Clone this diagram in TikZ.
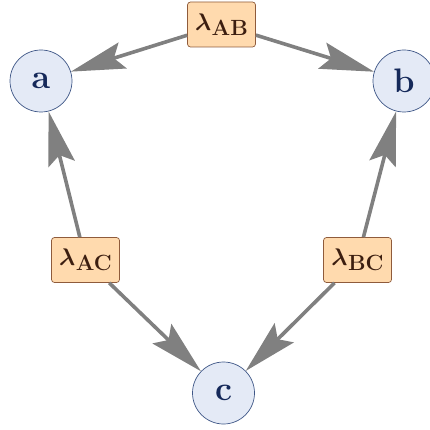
\RequirePackage{fix-cm}
\documentclass[tikz,border=0pt]{standalone}
\usepackage{amsmath}
\usetikzlibrary{arrows.meta}
\definecolor{varfill}{HTML}{E4EAF6}
\definecolor{vardraw}{HTML}{3F5787}
\definecolor{vartext}{HTML}{15295A}
\definecolor{facfill}{HTML}{FFDAAE}
\definecolor{facdraw}{HTML}{8F5B3B}
\definecolor{factext}{HTML}{3C1E10}
\definecolor{edgegray}{HTML}{808080}
\newcommand{\flab}[1]{$\boldsymbol{\lambda}$\kern0.5pt\raisebox{-5pt}{\fontsize{22}{26}\selectfont\bfseries #1}}
\begin{document}
\begin{tikzpicture}[x=1pt,y=-1pt,
    var/.style={circle,draw=vardraw,fill=varfill,line width=0.7pt,minimum size=62pt,inner sep=0pt,
        text=vartext,font=\fontsize{34}{38}\selectfont\bfseries},
    factor/.style={rectangle,rounded corners=3pt,draw=facdraw,fill=facfill,line width=0.7pt,
        minimum width=68pt,minimum height=45pt,inner sep=0pt,text=factext,font=\fontsize{24}{28}\selectfont},
    edge/.style={draw=edgegray,line width=3.6pt,-{Stealth[length=54pt,width=27pt,inset=9pt]}}]
    \useasboundingbox (0,0) rectangle (430,430);
    % variables
    \node[var] (a) at (41,81) {a};
    \node[var] (b) at (404,81) {b};
    \node[var] (c) at (223.5,393) {c};
    % factors
    \node[factor] (lab) at (221.5,24.5) {\flab{AB}};
    \node[factor] (lac) at (85.5,260) {\flab{AC}};
    \node[factor] (lbc) at (357.5,260) {\flab{BC}};
    % edges
    \draw[edge] (lab) -- (a);
    \draw[edge] (lab) -- (b);
    \draw[edge] (lac) -- (a);
    \draw[edge] (lac) -- (c);
    \draw[edge] (lbc) -- (b);
    \draw[edge] (lbc) -- (c);
\end{tikzpicture}
\end{document}
